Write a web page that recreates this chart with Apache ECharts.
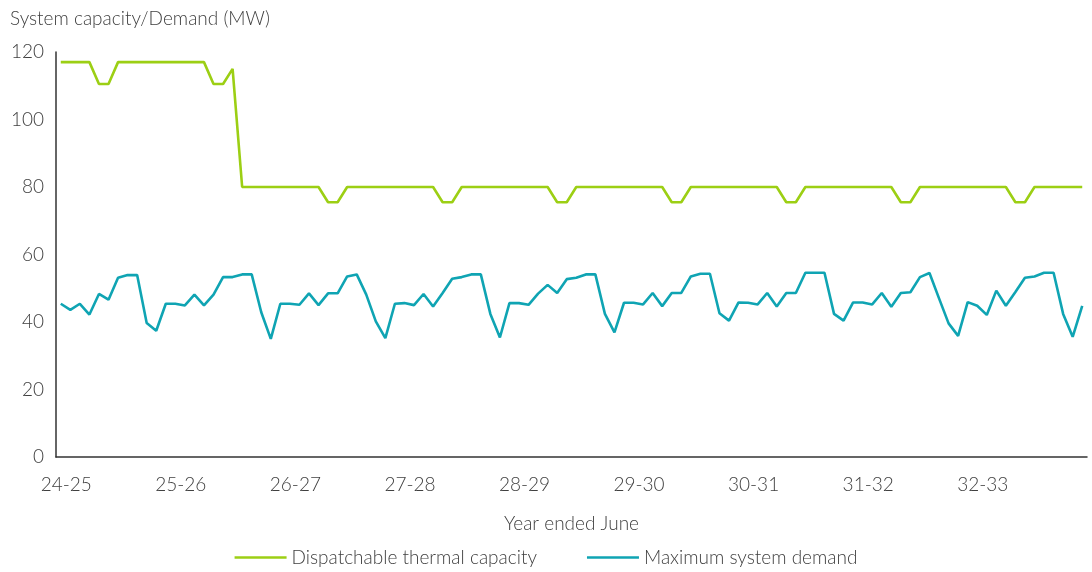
<!DOCTYPE html>
<html>
<head>
<meta charset="utf-8">
<script src="https://cdn.jsdelivr.net/npm/echarts@6/dist/echarts.min.js"></script>
<style>
  html, body { margin: 0; padding: 0; background: #fff; }
  #chart { width: 1092px; height: 572px; }
</style>
</head>
<body>
<div id="chart"></div>
<script>
// year labels (year ended June), one per 12 monthly points
const years = ["24-25", "25-26", "26-27", "27-28", "28-29", "29-30", "30-31", "31-32", "32-33"];
const months = ["Jul", "Aug", "Sep", "Oct", "Nov", "Dec", "Jan", "Feb", "Mar", "Apr", "May", "Jun"];

// Dispatchable thermal capacity (MW), monthly
const capacity = [
  117, 117, 117, 117, 110.5, 110.5, 117, 117, 117, 117, 117, 117,
  117, 117, 117, 117, 110.5, 110.5, 115, 80, 80, 80, 80, 80,
  80, 80, 80, 80, 75.5, 75.5, 80, 80, 80, 80, 80, 80,
  80, 80, 80, 80, 75.5, 75.5, 80, 80, 80, 80, 80, 80,
  80, 80, 80, 80, 75.5, 75.5, 80, 80, 80, 80, 80, 80,
  80, 80, 80, 80, 75.5, 75.5, 80, 80, 80, 80, 80, 80,
  80, 80, 80, 80, 75.5, 75.5, 80, 80, 80, 80, 80, 80,
  80, 80, 80, 80, 75.5, 75.5, 80, 80, 80, 80, 80, 80,
  80, 80, 80, 80, 75.5, 75.5, 80, 80, 80, 80, 80, 80
];

// Maximum system demand (MW), monthly
const demand = [
  45.4, 43.6, 45.4, 42.2, 48.3, 46.6, 53.1, 53.9, 53.9, 39.7, 37.4, 45.4,
  45.4, 44.9, 48.1, 44.9, 48.1, 53.3, 53.3, 54.1, 54.1, 42.9, 35.0, 45.4,
  45.4, 45.1, 48.5, 45.0, 48.5, 48.5, 53.5, 54.1, 48.1, 40.2, 35.2, 45.4,
  45.6, 45.0, 48.3, 44.6, 48.6, 52.8, 53.3, 54.1, 54.1, 42.4, 35.4, 45.6,
  45.6, 45.1, 48.4, 51.0, 48.6, 52.7, 53.1, 54.1, 54.1, 42.4, 36.9, 45.7,
  45.7, 45.2, 48.6, 44.7, 48.6, 48.6, 53.5, 54.3, 54.3, 42.6, 40.4, 45.8,
  45.7, 45.2, 48.6, 44.6, 48.6, 48.6, 54.6, 54.6, 54.6, 42.4, 40.4, 45.8,
  45.8, 45.2, 48.6, 44.5, 48.6, 48.8, 53.3, 54.5, 47.0, 39.6, 35.9, 45.9,
  44.8, 42.1, 49.3, 44.8, 48.9, 53.1, 53.5, 54.6, 54.6, 42.4, 35.6, 44.8
];

const categories = [];
years.forEach(y => months.forEach(m => categories.push(y + " " + m)));

const textColor = "#404040";
const font = "Lato";
const fs = 19;

const chart = echarts.init(document.getElementById("chart"));
chart.setOption({
  animation: false,
  grid: { left: 56, right: 5, top: 52, bottom: 115 },
  legend: {
    bottom: 0,
    left: "center",
    itemWidth: 52,
    itemHeight: 14,
    itemGap: 50,
    icon: "path://M0,6 L52,6 L52,8.5 L0,8.5 Z",
    textStyle: { color: textColor, fontFamily: font, fontWeight: 300, fontSize: fs },
    data: ["Dispatchable thermal capacity", "Maximum system demand"]
  },
  xAxis: {
    type: "category",
    data: categories,
    boundaryGap: true,
    name: "Year ended June",
    nameLocation: "middle",
    nameGap: 57,
    nameTextStyle: { color: textColor, fontFamily: font, fontWeight: 300, fontSize: fs },
    axisLine: { lineStyle: { color: "#333", width: 1.5 } },
    axisTick: { show: false },
    axisLabel: {
      interval: 11,
      margin: 18,
      padding: [0, 0, 0, 11],
      color: textColor,
      fontFamily: font,
      fontWeight: 300,
      fontSize: fs,
      formatter: v => v.split(" ")[0]
    },
    splitLine: { show: false }
  },
  yAxis: {
    type: "value",
    min: 0,
    max: 120,
    interval: 20,
    name: "System capacity/Demand (MW)",
    nameLocation: "end",
    nameGap: 24,
    nameTextStyle: { color: textColor, fontFamily: font, fontWeight: 300, fontSize: fs, align: "left", padding: [0, 0, 0, -46] },
    axisLine: { show: true, lineStyle: { color: "#333", width: 1.5 } },
    axisTick: { show: false },
    axisLabel: { margin: 12, color: textColor, fontFamily: font, fontWeight: 300, fontSize: fs },
    splitLine: { show: false }
  },
  series: [
    {
      name: "Dispatchable thermal capacity",
      type: "line",
      data: capacity,
      symbol: "none",
      lineStyle: { color: "#9ccf14", width: 2.6 },
      itemStyle: { color: "#9ccf14" }
    },
    {
      name: "Maximum system demand",
      type: "line",
      data: demand,
      symbol: "none",
      lineStyle: { color: "#0fa4b3", width: 2.6 },
      itemStyle: { color: "#0fa4b3" }
    }
  ]
});
</script>
</body>
</html>
